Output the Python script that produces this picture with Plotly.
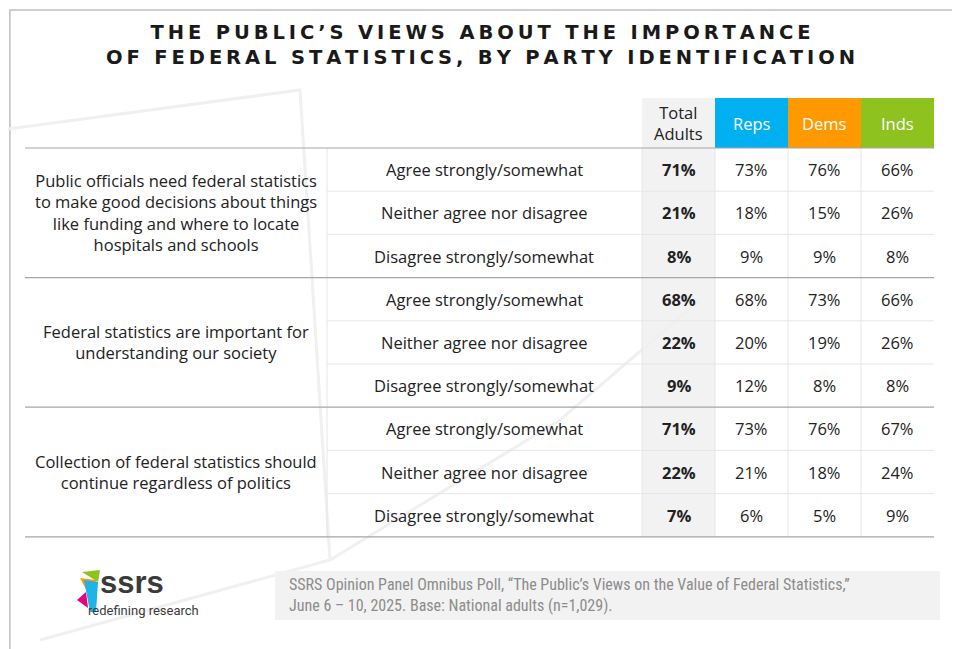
import plotly.graph_objects as go

# table data
questions = [
    "Public officials need federal statistics<br>to make good decisions about things<br>like funding and where to locate<br>hospitals and schools",
    "Federal statistics are important for<br>understanding our society",
    "Collection of federal statistics should<br>continue regardless of politics",
]
responses = ["Agree strongly/somewhat", "Neither agree nor disagree", "Disagree strongly/somewhat"]
columns = ["Total<br>Adults", "Reps", "Dems", "Inds"]
total = [71, 21, 8, 68, 22, 9, 71, 22, 7]
reps = [73, 18, 9, 68, 20, 12, 73, 21, 6]
dems = [76, 15, 9, 73, 19, 8, 76, 18, 5]
inds = [66, 26, 8, 66, 26, 8, 67, 24, 9]
title_lines = ["THE PUBLIC’S VIEWS ABOUT THE IMPORTANCE", "OF FEDERAL STATISTICS, BY PARTY IDENTIFICATION"]

FONT = "Open Sans"
FS = 16.5
col_x = [642, 715, 788, 861, 934]
head_colors = ["#f2f2f2", "#00b0f0", "#ff9900", "#8dc21f"]
top, row_h = 148, 43.2
y0_head = 98


def spaced(s):
    # imitate the wide letter spacing of the title
    return "\u2009".join(s)


fig = go.Figure()
shapes = []
ann = []

# outer frame, in paper coordinates
shapes.append(dict(type="rect", xref="paper", yref="paper", x0=0.002, y0=0.003, x1=0.998, y1=0.997,
                   line=dict(color="#bfbfbf", width=1.5)))
# faint background decoration
shapes.append(dict(type="path", path="M 0 130 L 300 90 L 330 560 L 40 640", line=dict(color="#f0f0f0", width=3)))
shapes.append(dict(type="path", path="M 330 560 L 560 420 L 700 300", line=dict(color="#f0f0f0", width=3)))

# total column shading
shapes.append(dict(type="rect", x0=col_x[0], x1=col_x[1], y0=y0_head, y1=top + 9 * row_h,
                   fillcolor="#f2f2f2", line=dict(width=0), layer="below"))
for i, name in enumerate(columns):
    shapes.append(dict(type="rect", x0=col_x[i], x1=col_x[i + 1], y0=y0_head, y1=top,
                       fillcolor=head_colors[i], line=dict(width=0), layer="below"))
    ann.append(dict(x=(col_x[i] + col_x[i + 1]) / 2, y=(y0_head + top) / 2, text=name, showarrow=False,
                    font=dict(family=FONT, size=FS, color="#222" if i == 0 else "white")))

# vertical light separators
for x in [327] + col_x[:-1]:
    shapes.append(dict(type="line", x0=x, x1=x, y0=top, y1=top + 9 * row_h, line=dict(color="#e6e6e6", width=1)))

# rows
for r in range(9):
    y0 = top + r * row_h
    yc = y0 + row_h / 2
    ann.append(dict(x=484, y=yc, text=responses[r % 3], showarrow=False,
                    font=dict(family=FONT, size=FS, color="#222")))
    vals = [total[r], reps[r], dems[r], inds[r]]
    for i, v in enumerate(vals):
        txt = f"<b>{v}%</b>" if i == 0 else f"{v}%"
        ann.append(dict(x=(col_x[i] + col_x[i + 1]) / 2, y=yc, text=txt, showarrow=False,
                        font=dict(family=FONT, size=FS, color="#222")))
    if r % 3 != 0:
        shapes.append(dict(type="line", x0=327, x1=934, y0=y0, y1=y0, line=dict(color="#e6e6e6", width=1)))

for g in range(4):
    y = top + g * 3 * row_h
    shapes.append(dict(type="line", x0=25, x1=934, y0=y, y1=y, line=dict(color="#a6a6a6", width=1.2)))
for g, q in enumerate(questions):
    ann.append(dict(x=176, y=top + (g * 3 + 1.5) * row_h, text=q, showarrow=False,
                    font=dict(family=FONT, size=FS, color="#222")))

# title
ann.append(dict(x=480, y=45, text="<b>" + "<br>".join(spaced(t) for t in title_lines) + "</b>",
                showarrow=False, font=dict(family="DejaVu Sans", size=19.5, color="#1a1a1a")))

# footer
shapes.append(dict(type="rect", x0=275, x1=940, y0=571, y1=620, fillcolor="#f2f2f2", line=dict(width=0)))
ann.append(dict(x=287, y=595, xanchor="left", align="left", showarrow=False,
                text="SSRS Opinion Panel Omnibus Poll, “The Public’s Views on the Value of Federal Statistics,”<br>June 6 – 10, 2025. Base: National adults (n=1,029).",
                font=dict(family="Roboto Condensed, Liberation Sans Narrow, Roboto", size=16, color="#8c8c8c")))

# logo
shapes.append(dict(type="path", path="M 82 572 L 100 570 L 98 582 Z", fillcolor="#8dc21f", line=dict(width=0)))
shapes.append(dict(type="path", path="M 80 578 L 96 580 L 94 604 Z", fillcolor="#ff9900", line=dict(width=0)))
shapes.append(dict(type="path", path="M 84 580 L 98 582 L 96 612 L 90 612 Z", fillcolor="#1fb3e8", line=dict(width=0)))
shapes.append(dict(type="path", path="M 77 600 L 86 592 L 88 608 Z", fillcolor="#e6007e", line=dict(width=0)))
ann.append(dict(x=98, y=582, xanchor="left", text="<b>ssrs</b>", showarrow=False,
                font=dict(family="Liberation Sans", size=31, color="#3a3a3a")))
ann.append(dict(x=86, y=610, xanchor="left", text="redefining research", showarrow=False,
                font=dict(family="Liberation Sans Narrow, Roboto", size=13, color="#3a3a3a")))

# axes offset so that shape and text coordinates land on picture pixels
fig.update_layout(
    width=960, height=649, margin=dict(l=0, r=0, t=0, b=0),
    paper_bgcolor="white", plot_bgcolor="white",
    xaxis=dict(range=[8, 968], visible=False, fixedrange=True),
    yaxis=dict(range=[657, 8], visible=False, fixedrange=True),
    shapes=shapes, annotations=ann, showlegend=False,
)
fig.write_html("out.html")
